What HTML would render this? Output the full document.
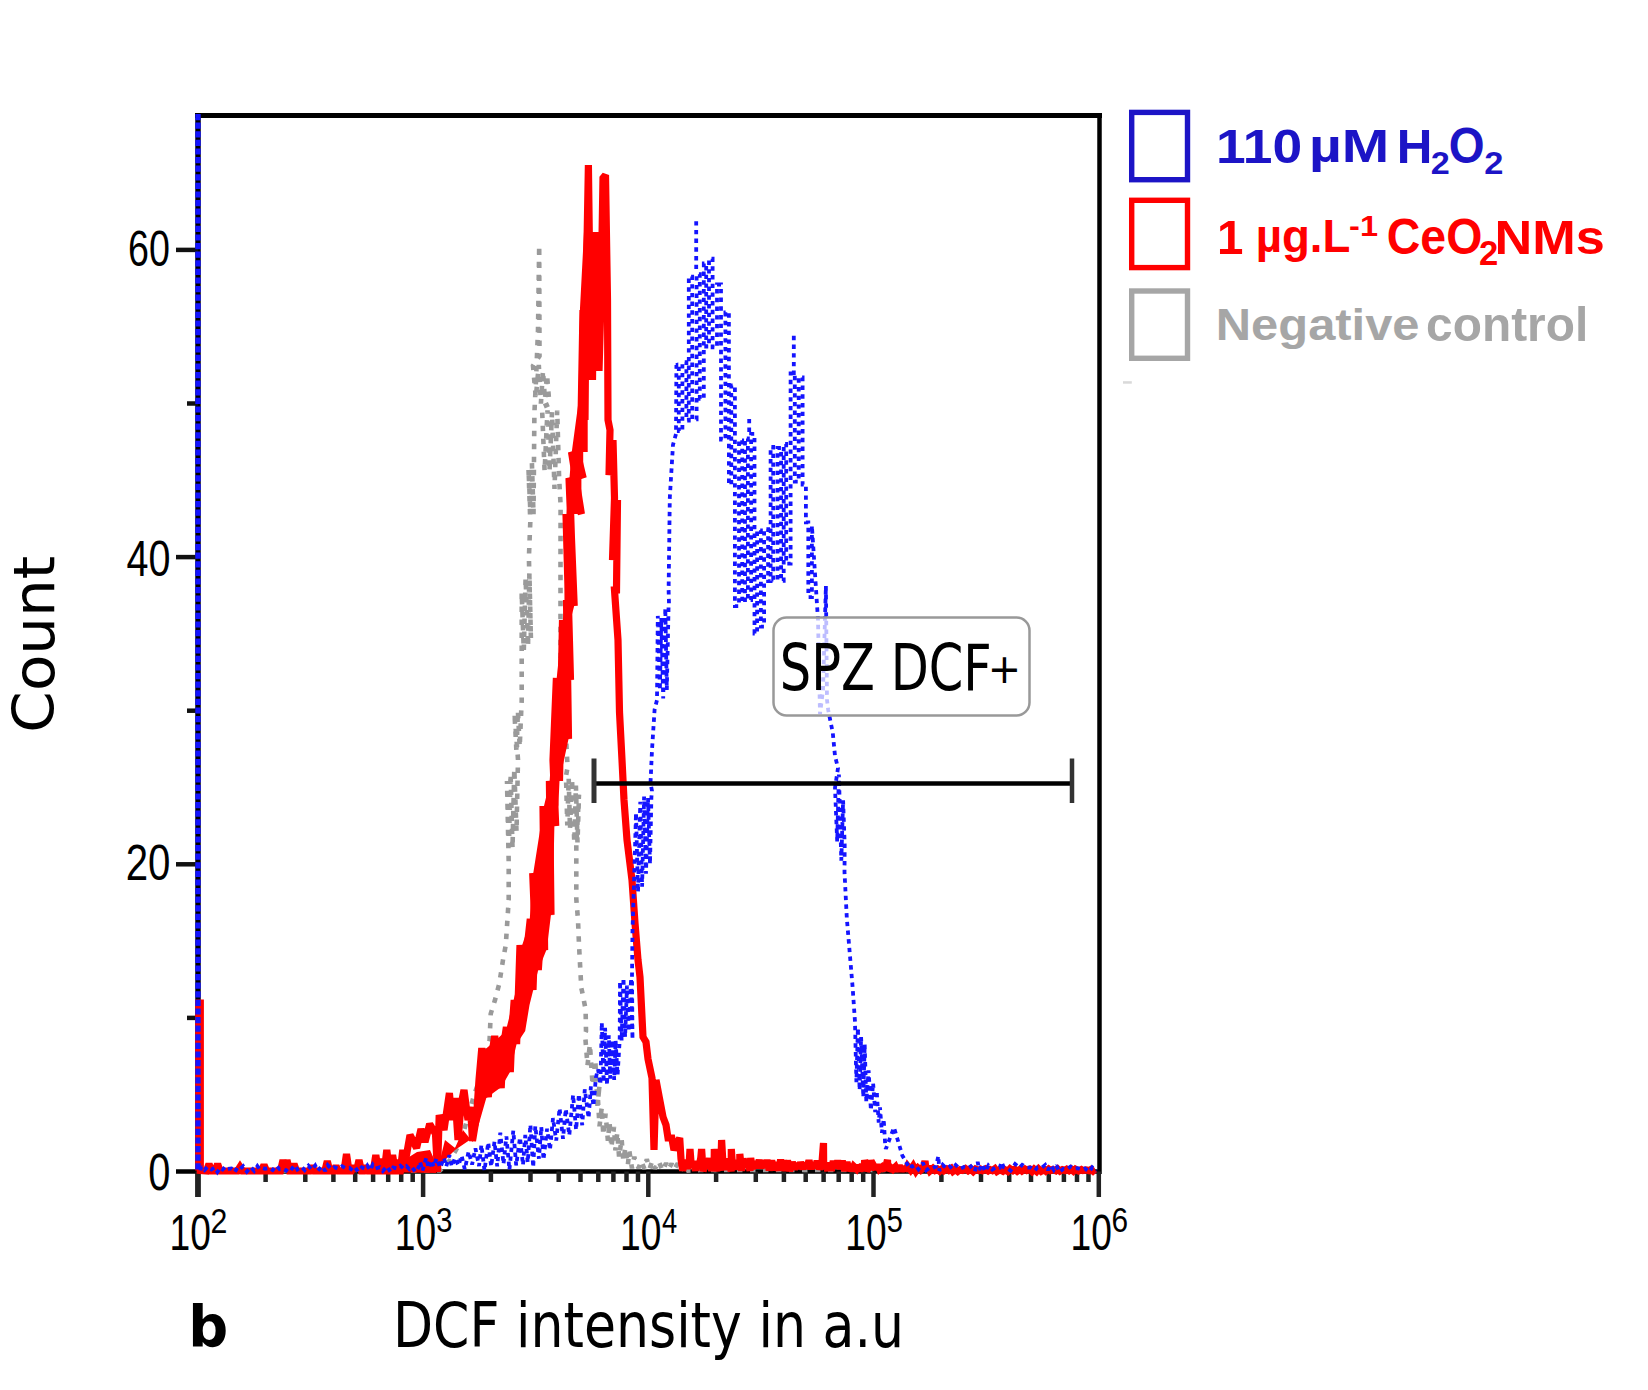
<!DOCTYPE html>
<html><head><meta charset="utf-8"><title>DCF histogram</title>
<style>html,body{margin:0;padding:0;background:#fff;}svg{display:block;}</style>
</head><body>
<svg width="1648" height="1390" viewBox="0 0 1648 1390">
<rect width="1648" height="1390" fill="#fff"/>
<line x1="195" y1="115.5" x2="1102" y2="115.5" stroke="#000" stroke-width="5"/><line x1="1099.5" y1="113" x2="1099.5" y2="1174" stroke="#000" stroke-width="4.5"/><line x1="198" y1="113" x2="198" y2="1197" stroke="#000" stroke-width="5.5"/><line x1="176" y1="1171.5" x2="1101" y2="1171.5" stroke="#000" stroke-width="4.5"/><line x1="176" y1="864.3" x2="198" y2="864.3" stroke="#111" stroke-width="4.5"/><line x1="176" y1="557.1" x2="198" y2="557.1" stroke="#111" stroke-width="4.5"/><line x1="176" y1="249.9" x2="198" y2="249.9" stroke="#111" stroke-width="4.5"/><line x1="187" y1="1017.9" x2="198" y2="1017.9" stroke="#111" stroke-width="4.5"/><line x1="187" y1="710.7" x2="198" y2="710.7" stroke="#111" stroke-width="4.5"/><line x1="187" y1="403.5" x2="198" y2="403.5" stroke="#111" stroke-width="4.5"/><line x1="197.8" y1="1171.5" x2="197.8" y2="1197" stroke="#222" stroke-width="4.5"/><line x1="265.6" y1="1171.5" x2="265.6" y2="1182" stroke="#222" stroke-width="4.5"/><line x1="305.3" y1="1171.5" x2="305.3" y2="1182" stroke="#222" stroke-width="4.5"/><line x1="333.4" y1="1171.5" x2="333.4" y2="1182" stroke="#222" stroke-width="4.5"/><line x1="355.2" y1="1171.5" x2="355.2" y2="1182" stroke="#222" stroke-width="4.5"/><line x1="373.1" y1="1171.5" x2="373.1" y2="1182" stroke="#222" stroke-width="4.5"/><line x1="388.2" y1="1171.5" x2="388.2" y2="1182" stroke="#222" stroke-width="4.5"/><line x1="401.2" y1="1171.5" x2="401.2" y2="1182" stroke="#222" stroke-width="4.5"/><line x1="412.7" y1="1171.5" x2="412.7" y2="1182" stroke="#222" stroke-width="4.5"/><line x1="423.1" y1="1171.5" x2="423.1" y2="1197" stroke="#222" stroke-width="4.5"/><line x1="490.9" y1="1171.5" x2="490.9" y2="1182" stroke="#222" stroke-width="4.5"/><line x1="530.5" y1="1171.5" x2="530.5" y2="1182" stroke="#222" stroke-width="4.5"/><line x1="558.7" y1="1171.5" x2="558.7" y2="1182" stroke="#222" stroke-width="4.5"/><line x1="580.5" y1="1171.5" x2="580.5" y2="1182" stroke="#222" stroke-width="4.5"/><line x1="598.3" y1="1171.5" x2="598.3" y2="1182" stroke="#222" stroke-width="4.5"/><line x1="613.4" y1="1171.5" x2="613.4" y2="1182" stroke="#222" stroke-width="4.5"/><line x1="626.5" y1="1171.5" x2="626.5" y2="1182" stroke="#222" stroke-width="4.5"/><line x1="638.0" y1="1171.5" x2="638.0" y2="1182" stroke="#222" stroke-width="4.5"/><line x1="648.3" y1="1171.5" x2="648.3" y2="1197" stroke="#222" stroke-width="4.5"/><line x1="716.1" y1="1171.5" x2="716.1" y2="1182" stroke="#222" stroke-width="4.5"/><line x1="755.8" y1="1171.5" x2="755.8" y2="1182" stroke="#222" stroke-width="4.5"/><line x1="783.9" y1="1171.5" x2="783.9" y2="1182" stroke="#222" stroke-width="4.5"/><line x1="805.7" y1="1171.5" x2="805.7" y2="1182" stroke="#222" stroke-width="4.5"/><line x1="823.6" y1="1171.5" x2="823.6" y2="1182" stroke="#222" stroke-width="4.5"/><line x1="838.7" y1="1171.5" x2="838.7" y2="1182" stroke="#222" stroke-width="4.5"/><line x1="851.7" y1="1171.5" x2="851.7" y2="1182" stroke="#222" stroke-width="4.5"/><line x1="863.2" y1="1171.5" x2="863.2" y2="1182" stroke="#222" stroke-width="4.5"/><line x1="873.5" y1="1171.5" x2="873.5" y2="1197" stroke="#222" stroke-width="4.5"/><line x1="941.4" y1="1171.5" x2="941.4" y2="1182" stroke="#222" stroke-width="4.5"/><line x1="981.0" y1="1171.5" x2="981.0" y2="1182" stroke="#222" stroke-width="4.5"/><line x1="1009.2" y1="1171.5" x2="1009.2" y2="1182" stroke="#222" stroke-width="4.5"/><line x1="1031.0" y1="1171.5" x2="1031.0" y2="1182" stroke="#222" stroke-width="4.5"/><line x1="1048.8" y1="1171.5" x2="1048.8" y2="1182" stroke="#222" stroke-width="4.5"/><line x1="1063.9" y1="1171.5" x2="1063.9" y2="1182" stroke="#222" stroke-width="4.5"/><line x1="1077.0" y1="1171.5" x2="1077.0" y2="1182" stroke="#222" stroke-width="4.5"/><line x1="1088.5" y1="1171.5" x2="1088.5" y2="1182" stroke="#222" stroke-width="4.5"/><line x1="1098.8" y1="1171.5" x2="1098.8" y2="1197" stroke="#222" stroke-width="4.5"/>
<polyline points="203.0,1170.5 440.0,1170.5 450.0,1160.0 456.0,1150.0 461.0,1140.0 464.7,1128.0 470.0,1110.0 474.0,1095.0 477.7,1085.0 482.0,1068.0 486.3,1052.7 489.6,1040.0 490.7,1013.8 495.0,1000.0 499.3,983.6 503.0,960.0 505.8,944.8 508.7,900.0 508.7,862.0 507.0,780.9 508.9,846.2 510.6,773.8 512.5,848.5 514.3,768.9 516.5,831.7 518.0,759.5 514.5,713.3 516.5,752.7 517.9,710.9 519.7,746.8 521.5,704.7 521.7,701.0 521.7,661.0 521.7,592.4 523.8,650.4 525.6,578.0 528.0,646.4 529.4,573.2 530.9,638.5 528.9,557.5 530.3,522.0 528.5,469.1 530.5,514.4 531.9,462.7 533.5,514.7 534.4,413.0 536.0,380.0 538.0,330.0 539.2,245.4 539.5,356.0 533.0,365.7 535.8,397.8 538.8,365.0 540.9,403.5 543.0,370.7 544.9,399.4 547.0,374.8 549.4,403.9 542.0,407.1 544.6,471.1 547.5,410.4 549.5,471.2 552.0,412.0 554.5,488.9 557.2,410.6 559.1,477.9 560.6,505.0 560.5,560.0 560.5,620.0 560.6,672.0 563.0,690.0 566.0,738.0 567.6,767.0 566.0,776.1 567.3,825.5 568.7,778.2 570.0,829.3 572.0,779.0 574.3,842.4 575.9,785.5 577.5,842.5 579.0,794.6 576.3,845.0 576.3,899.0 578.0,920.0 579.0,944.8 581.3,988.0 582.0,991.0 585.6,1009.5 586.0,1031.0 585.0,1033.6 587.5,1065.4 589.9,1044.5 592.6,1085.2 595.3,1059.7 597.5,1105.9 599.5,1085.2 598.0,1100.1 599.5,1126.3 601.8,1107.2 603.3,1135.1 605.6,1113.8 607.9,1140.7 609.5,1122.1 611.4,1147.3 614.0,1126.9 615.4,1150.4 617.3,1132.5 619.1,1157.3 621.6,1138.9 623.3,1160.6 625.4,1147.6 627.8,1165.0 629.4,1151.4 632.0,1168.4 634.3,1156.8 635.0,1159.7 638.6,1168.0 641.2,1160.9 644.5,1169.0 646.8,1159.2 649.6,1168.8 652.2,1161.0 654.9,1168.6 658.7,1161.2 662.6,1170.8 666.1,1163.1 668.5,1169.2 671.6,1163.6 674.1,1169.7 677.8,1163.3 680.4,1170.8 684.2,1163.5 688.1,1170.7 700.0,1170.0 1097.0,1170.0" fill="none" stroke="#9a9a9a" stroke-width="4.6" stroke-dasharray="5.5 7.5" stroke-linejoin="miter" stroke-miterlimit="2"/>
<polygon points="372.0,1168.0 381.0,1163.0 398.0,1164.0 417.0,1152.0 430.0,1150.0 438.0,1168.0 445.0,1140.0 455.0,1148.0 463.0,1130.0 472.7,1142.0 477.0,1118.0 482.0,1052.0 495.0,1041.0 505.8,1031.0 516.6,988.0 520.9,949.0 529.5,923.0 532.5,878.0 543.5,808.0 549.5,783.0 556.5,680.0 562.5,622.0 564.5,606.0 566.5,514.0 571.5,454.0 578.5,402.0 580.0,308.0 584.0,232.0 609.0,232.0 609.0,292.0 588.0,292.0 587.7,390.0 587.7,452.0 583.2,452.0 583.2,478.0 581.4,478.0 581.4,514.0 574.2,514.0 574.2,606.0 570.5,620.0 570.5,680.0 568.5,739.0 559.5,781.0 558.4,805.0 554.4,825.0 553.4,872.0 553.2,880.0 551.0,914.5 546.8,949.0 538.0,970.7 529.5,1005.0 525.2,1031.0 516.6,1044.0 510.0,1072.0 501.4,1087.0 486.3,1098.0 477.7,1128.0 471.2,1139.0 455.0,1150.0 445.0,1160.0 436.0,1173.0 372.0,1172.0" fill="#ff0000"/>
<polyline points="198.8,1170.5 198.8,1003.0 200.3,1003.0 200.3,1170.5 206.5,1171.0 209.0,1164.0 211.5,1171.0 215.1,1171.0 217.6,1164.0 220.1,1171.0 237.5,1171.0 240.0,1167.0 242.5,1171.0 261.5,1171.0 264.0,1165.0 266.5,1171.0 280.5,1171.0 283.0,1160.0 285.5,1171.0 287.0,1160.0 289.5,1171.0 291.5,1171.0 294.0,1164.0 296.5,1171.0 309.5,1171.0 312.0,1166.0 314.5,1171.0 324.8,1171.0 327.3,1161.0 329.8,1171.0 333.5,1171.0 336.0,1166.0 338.5,1171.0 344.0,1171.0 346.5,1154.0 349.0,1171.0 351.5,1171.0 354.0,1166.0 356.5,1171.0 359.0,1160.0 361.5,1171.0 363.5,1171.0 366.0,1166.0 368.5,1171.0 373.3,1171.0 375.8,1155.0 378.3,1171.0 378.5,1171.0 381.0,1159.0 383.5,1171.0 384.3,1171.0 386.8,1150.0 389.3,1171.0 390.1,1171.0 392.6,1155.0 395.1,1171.0 395.2,1171.0 397.7,1160.0 400.2,1171.0 400.3,1171.0 402.8,1150.0 405.3,1171.0 406.0,1158.0 410.0,1135.0 416.6,1148.0 421.0,1129.0 425.0,1142.0 429.7,1124.0 435.5,1134.0 437.5,1172.0 439.2,1115.0 444.0,1130.0 449.4,1093.0 452.0,1120.0 455.2,1098.0 458.0,1140.0 461.0,1105.0 464.0,1090.0 468.0,1120.0 470.5,1107.0 472.5,1141.0 476.6,1116.0 479.0,1080.0 481.8,1048.0 485.0,1080.0 488.3,1097.0 491.0,1060.0 494.7,1036.0 498.0,1062.0 501.2,1088.0 503.0,1050.0 506.4,1027.0 508.0,1052.0 510.3,1072.0 512.0,1030.0 514.2,1000.0 516.6,1044.0 518.5,990.0 520.0,945.0 523.0,985.0 525.6,962.0 528.0,940.0 530.3,919.0 533.0,990.0 535.0,930.0 532.7,873.0 538.3,970.0 541.0,930.0 544.6,950.0 543.0,806.0 548.0,880.0 551.0,915.0 549.4,781.0 555.7,826.0 553.0,760.0 556.4,678.0 559.5,781.0 561.0,700.0 562.5,620.0 568.5,739.0 566.5,600.0 570.5,680.0 566.0,514.0 574.2,606.0 569.0,478.0 581.4,514.0 571.5,452.0 583.2,478.0 577.0,452.0 581.0,420.0 583.0,310.0 585.0,420.0 586.0,300.0 588.4,165.0 590.0,290.0 592.5,380.0 594.0,240.0 595.5,371.0 597.5,233.0 599.0,371.0 601.0,300.0 603.0,178.0 605.5,175.0 607.5,300.0 608.0,420.0 610.0,430.0 609.0,475.0 613.0,440.0 614.5,498.0 612.5,560.0 617.5,500.0 616.5,590.0 614.5,590.0 618.0,640.0 619.5,712.0 622.0,760.0 624.0,800.0 627.0,840.0 632.0,880.0 635.0,923.0 638.0,960.0 640.0,977.0 643.0,1037.0 646.0,1042.0 648.0,1059.0 652.0,1078.0 654.0,1150.0 656.0,1080.0 659.0,1096.0 663.0,1117.0 666.0,1125.0 668.0,1138.0 671.8,1138.0 674.0,1150.0 679.7,1138.0 681.0,1158.9 682.7,1170.7 685.2,1160.0 687.4,1168.7 689.3,1160.9 690.0,1149.0 691.4,1167.6 693.5,1161.5 695.5,1170.7 697.1,1161.0 698.7,1168.3 700.8,1157.8 701.6,1149.0 703.1,1171.3 705.6,1161.7 707.2,1168.0 709.5,1158.3 711.7,1170.9 714.2,1161.1 714.3,1149.0 716.8,1171.2 718.6,1160.9 720.7,1170.6 721.6,1140.0 723.2,1167.5 724.9,1158.8 727.1,1169.6 729.3,1160.5 731.2,1171.4 731.3,1149.0 732.8,1169.4 735.0,1160.3 737.3,1169.0 739.8,1161.5 739.8,1154.0 741.6,1170.9 743.1,1158.8 745.5,1167.6 747.8,1159.2 750.0,1170.9 750.7,1158.0 752.5,1168.6 754.8,1161.6 756.7,1167.8 759.2,1160.0 761.1,1168.3 763.3,1160.9 765.3,1167.3 767.0,1160.1 769.2,1170.3 771.7,1160.7 774.2,1169.9 776.7,1162.6 779.0,1170.6 780.6,1159.6 782.2,1168.7 783.7,1160.5 785.7,1170.9 787.5,1160.6 789.7,1171.0 792.3,1162.2 794.6,1169.2 796.6,1163.8 799.1,1168.2 800.5,1162.3 803.0,1168.9 805.1,1162.6 806.7,1168.6 809.0,1160.4 811.0,1169.1 812.8,1162.9 815.3,1167.9 817.1,1160.9 819.5,1169.1 821.9,1163.8 823.5,1143.0 823.7,1169.2 825.4,1163.5 827.7,1170.6 829.7,1162.8 831.3,1170.8 833.3,1160.9 835.3,1167.9 837.7,1160.9 840.1,1168.8 842.3,1160.9 844.7,1170.8 847.0,1162.1 848.9,1170.9 850.0,1165.9 851.7,1170.7 853.7,1166.3 856.4,1168.9 858.2,1165.4 859.9,1170.9 862.3,1164.4 864.3,1169.6 864.6,1160.0 866.7,1170.9 869.3,1166.8 869.5,1160.0 871.0,1169.3 873.6,1165.5 875.5,1168.9 877.7,1164.9 879.5,1169.2 882.1,1167.0 884.8,1170.1 887.5,1160.0 887.9,1170.5 890.4,1167.2 892.9,1169.3 895.4,1166.9 897.2,1170.9 899.3,1165.4 901.3,1171.2 903.4,1166.9 905.6,1170.6 907.6,1166.1 910.6,1169.9 913.2,1166.0 915.9,1171.1 918.1,1168.0 920.7,1170.2 923.4,1167.7 925.0,1161.0 926.2,1171.0 927.9,1166.6 930.0,1171.0 933.0,1168.4 935.1,1170.4 937.4,1169.2 939.7,1171.2 941.8,1169.2 943.8,1170.8 946.8,1169.0 948.8,1170.3 951.2,1168.6 953.0,1171.4 955.5,1169.5 957.8,1171.4 960.1,1169.7 962.5,1170.4 965.4,1168.6 968.1,1170.7 970.6,1168.9 973.2,1171.4 975.5,1169.1 978.6,1170.5 980.6,1169.2 982.6,1170.5 985.5,1169.0 988.1,1170.8 990.0,1169.5 992.4,1170.6 994.9,1168.7 997.0,1171.5 1000.0,1169.7 1002.9,1171.2 1004.7,1169.7 1007.7,1171.4 1010.1,1168.8 1012.9,1170.7 1014.8,1169.3 1017.2,1171.2 1020.2,1169.2 1022.1,1170.9 1024.9,1169.0 1027.0,1170.4 1029.6,1169.3 1032.0,1171.4 1034.1,1169.2 1036.6,1171.3 1038.6,1168.9 1041.2,1171.3 1044.1,1169.7 1045.9,1171.2 1048.6,1169.1 1050.4,1170.5 1052.9,1169.4 1055.8,1170.7 1057.7,1169.0 1060.0,1171.1 1062.4,1169.7 1065.0,1170.5 1066.8,1169.3 1069.0,1170.6 1071.0,1169.1 1073.4,1171.1 1075.4,1169.2 1078.5,1171.0 1081.4,1169.5 1083.1,1170.5 1086.0,1169.9 1089.0,1170.6 1090.9,1169.5 1092.9,1171.1 1094.7,1169.4" fill="none" stroke="#ff0000" stroke-width="7.2" stroke-linejoin="miter" stroke-miterlimit="2"/>
<polyline points="200.5,1170.5 201.0,1166.5 204.6,1170.1 207.7,1166.6 211.5,1169.5 214.7,1167.4 217.4,1172.0 220.4,1167.6 222.7,1169.5 225.4,1166.5 227.7,1168.9 231.4,1168.5 234.8,1171.9 237.7,1167.2 240.2,1169.0 243.1,1166.1 246.9,1171.6 250.9,1167.0 254.2,1170.9 257.4,1166.1 259.7,1169.2 262.4,1168.0 265.0,1168.8 269.0,1167.9 272.7,1170.1 276.3,1165.7 279.5,1169.2 282.1,1168.4 286.1,1170.6 289.0,1166.7 292.0,1168.6 295.0,1165.2 297.4,1169.5 301.5,1166.8 304.7,1170.1 308.4,1165.8 311.8,1170.0 315.2,1165.6 317.8,1170.8 321.8,1166.1 325.2,1170.9 327.7,1165.1 331.5,1169.2 334.4,1167.2 338.0,1168.7 342.0,1166.2 346.2,1168.5 349.5,1167.9 352.7,1170.6 355.4,1167.8 358.0,1171.7 361.8,1167.4 365.0,1168.9 367.3,1165.5 370.1,1170.4 372.7,1164.7 375.5,1168.6 379.7,1167.2 382.8,1171.0 386.9,1166.3 390.6,1171.9 393.2,1167.5 397.0,1168.6 400.4,1165.8 403.7,1168.7 406.5,1166.2 409.3,1169.0 411.6,1166.8 415.6,1171.9 419.0,1166.6 420.0,1161.7 422.4,1170.9 426.3,1157.8 428.6,1168.2 431.3,1160.2 433.8,1166.7 436.5,1158.3 440.3,1167.7 444.0,1157.9 446.2,1166.5 449.4,1155.2 451.8,1166.5 455.0,1157.9 458.5,1165.6 461.6,1155.6 464.8,1169.4 468.6,1151.4 472.1,1164.5 475.4,1148.4 479.0,1166.1 481.4,1144.9 484.5,1170.7 488.2,1142.4 491.2,1166.5 494.5,1141.6 497.2,1166.4 500.3,1132.7 503.5,1164.0 506.4,1136.4 509.4,1169.8 513.3,1130.6 516.2,1165.4 520.0,1137.4 523.0,1165.0 525.3,1135.0 527.7,1162.4 530.4,1124.7 533.2,1167.3 535.3,1126.1 538.9,1158.7 541.3,1126.9 543.5,1159.8 547.1,1128.8 550.0,1150.0 553.0,1118.1 556.2,1140.6 559.6,1108.2 563.0,1138.8 565.8,1108.9 569.3,1135.3 573.1,1094.9 576.1,1129.9 578.9,1094.1 582.2,1125.2 584.8,1089.3 588.6,1118.1 590.9,1086.4 593.5,1106.1 595.9,1077.3 598.0,1069.2 600.4,1084.4 601.8,1022.5 603.6,1082.4 605.1,1027.8 607.0,1085.2 608.8,1035.3 610.2,1078.7 612.1,1040.1 614.2,1080.0 615.6,1040.6 617.6,1074.9 619.7,1039.9 620.0,981.3 621.6,1040.7 623.5,978.0 625.1,1037.1 627.0,985.6 628.8,1031.3 631.1,978.4 632.5,1039.4 632.0,976.0 632.5,930.0 634.0,884.0 636.0,812.9 638.0,891.9 640.3,801.8 642.1,886.8 644.1,796.6 646.0,873.7 648.0,798.0 650.0,864.1 651.4,797.1 652.0,791.0 650.5,783.0 652.0,750.0 654.6,709.6 657.0,700.0 657.8,615.9 659.9,690.0 661.3,618.0 663.2,698.5 665.3,608.3 666.8,690.0 668.6,605.7 669.0,604.0 668.6,590.0 669.0,560.0 669.8,497.7 673.0,444.8 676.0,434.0 676.4,365.0 676.0,365.1 678.8,365.1 678.8,431.1 682.4,431.1 682.4,362.2 686.4,362.2 686.4,420.6 688.8,420.6 688.8,276.6 692.2,276.6 692.2,419.4 696.6,419.4 696.6,274.2 699.8,274.2 699.8,398.8 703.8,398.8 703.8,263.5 706.2,263.5 706.2,346.7 709.0,346.7 709.0,258.7 712.6,258.7 712.6,347.3 717.0,347.3 717.0,284.5 721.0,284.5 721.0,439.7 725.4,439.7 725.4,312.3 728.9,312.3 728.9,484.6 731.3,484.6 731.3,385.5 734.9,385.5 734.9,606.1 739.0,606.1 739.0,440.3 742.2,440.3 742.2,602.3 745.0,602.3 745.0,438.5 747.9,438.5 747.9,600.0 751.1,600.0 751.1,433.9 754.5,433.9 754.5,633.5 757.1,633.5 757.1,530.3 760.9,530.3 760.9,626.7 764.1,626.7 764.1,529.2 768.1,529.2 768.1,581.2 770.6,581.2 770.6,446.8 773.2,446.8 773.2,579.7 777.5,579.7 777.5,448.0 781.1,448.0 781.1,580.9 783.7,580.9 783.7,444.0 786.2,444.0 786.2,563.6 790.6,563.6 790.6,373.4 794.8,373.4 794.8,481.7 798.7,481.7 798.7,377.4 802.6,377.4 802.6,484.6 805.9,484.6 805.9,522.3 808.3,522.3 808.3,597.1 811.9,597.1 811.9,525.7 818.0,620.0 820.0,714.0 823.0,690.0 825.9,586.0 827.0,700.0 828.2,710.0 832.8,733.0 835.0,756.0 838.0,768.0 835.0,787.8 837.2,841.5 838.9,774.6 841.3,860.6 843.1,800.3 844.7,845.4 844.5,872.0 846.8,918.0 852.6,987.0 855.0,1021.8 855.0,1023.1 856.4,1082.1 857.9,1027.8 859.6,1090.2 861.1,1037.0 863.3,1097.1 864.7,1044.4 866.3,1101.8 868.6,1070.4 870.9,1110.3 873.1,1083.0 875.2,1112.1 876.7,1090.8 878.7,1122.7 880.0,1107.3 881.9,1132.8 883.7,1119.0 885.3,1146.7 885.9,1148.8 894.0,1127.5 902.3,1155.4 908.8,1166.9 909.0,1165.1 912.2,1166.7 915.2,1165.0 918.4,1169.2 922.9,1162.8 926.3,1170.3 929.5,1167.9 932.6,1168.3 935.9,1166.5 938.4,1156.0 939.3,1170.7 942.7,1164.8 946.8,1168.6 949.7,1166.4 952.7,1169.0 955.7,1165.0 959.8,1169.0 963.8,1167.0 967.5,1168.4 970.8,1166.3 974.8,1171.3 977.7,1162.0 979.3,1169.9 982.0,1164.1 985.2,1171.5 988.4,1165.5 992.3,1169.5 996.7,1166.9 999.8,1167.6 1001.5,1162.0 1003.7,1167.2 1007.7,1168.5 1010.6,1170.6 1015.1,1164.0 1019.5,1167.6 1022.2,1164.8 1026.6,1167.5 1030.9,1167.7 1034.9,1170.6 1037.4,1167.4 1041.7,1167.8 1045.2,1164.9 1048.0,1170.1 1051.0,1165.1 1053.8,1169.9 1056.5,1165.6 1059.3,1171.9 1063.4,1168.8 1066.3,1169.5 1070.6,1166.6 1073.7,1168.7 1077.8,1168.2 1081.9,1169.9 1085.0,1168.5 1089.1,1171.8 1092.2,1167.3 1096.6,1171.0" fill="none" stroke="#1414ff" stroke-width="3.8" stroke-dasharray="4.4 4.3" stroke-linejoin="miter" stroke-miterlimit="2"/>
<line x1="198" y1="114" x2="198" y2="1171" stroke="#1414ff" stroke-width="5.4" stroke-dasharray="6.2 2.4"/>
<polyline points="696.2,269.1 696.2,218.0" fill="none" stroke="#1414ff" stroke-width="3.8" stroke-dasharray="4.4 4.3"/>
<polyline points="749.2,432.0 749.2,418.0" fill="none" stroke="#1414ff" stroke-width="3.8" stroke-dasharray="4.4 4.3"/>
<polyline points="793.8,375.0 793.8,334.0" fill="none" stroke="#1414ff" stroke-width="3.8" stroke-dasharray="4.4 4.3"/>
<line x1="594" y1="783.5" x2="1072" y2="783.5" stroke="#000" stroke-width="4.5"/><line x1="594" y1="758.5" x2="594" y2="803" stroke="#333" stroke-width="5"/><line x1="1072" y1="758.5" x2="1072" y2="803" stroke="#333" stroke-width="4.5"/><rect x="773.5" y="617.5" width="256" height="98" rx="13" ry="13" fill="#fff" fill-opacity="0.72" stroke="#999" stroke-width="2.5"/>
<text x="128.12" y="266.10" font-family="&quot;Liberation Sans&quot;, &quot;DejaVu Sans&quot;, sans-serif" font-weight="normal" font-size="50.32" textLength="41.88" lengthAdjust="spacingAndGlyphs" fill="#000">60</text><text x="126.41" y="575.60" font-family="&quot;Liberation Sans&quot;, &quot;DejaVu Sans&quot;, sans-serif" font-weight="normal" font-size="50.46" textLength="43.96" lengthAdjust="spacingAndGlyphs" fill="#000">40</text><text x="125.69" y="879.80" font-family="&quot;Liberation Sans&quot;, &quot;DejaVu Sans&quot;, sans-serif" font-weight="normal" font-size="50.04" textLength="44.71" lengthAdjust="spacingAndGlyphs" fill="#000">20</text><text x="148.31" y="1189.99" font-family="&quot;Liberation Sans&quot;, &quot;DejaVu Sans&quot;, sans-serif" font-weight="normal" font-size="51.31" textLength="22.13" lengthAdjust="spacingAndGlyphs" fill="#000">0</text><text x="169.61" y="1249.59" font-family="&quot;Liberation Sans&quot;, &quot;DejaVu Sans&quot;, sans-serif" font-weight="normal" font-size="50.60" textLength="41.37" lengthAdjust="spacingAndGlyphs" fill="#000">10</text><text x="210.58" y="1232.80" font-family="&quot;Liberation Sans&quot;, &quot;DejaVu Sans&quot;, sans-serif" font-weight="normal" font-size="35.27" textLength="16.87" lengthAdjust="spacingAndGlyphs" fill="#000">2</text><text x="394.86" y="1249.59" font-family="&quot;Liberation Sans&quot;, &quot;DejaVu Sans&quot;, sans-serif" font-weight="normal" font-size="50.60" textLength="41.37" lengthAdjust="spacingAndGlyphs" fill="#000">10</text><text x="436.26" y="1232.45" font-family="&quot;Liberation Sans&quot;, &quot;DejaVu Sans&quot;, sans-serif" font-weight="normal" font-size="34.77" textLength="16.16" lengthAdjust="spacingAndGlyphs" fill="#000">3</text><text x="620.11" y="1249.59" font-family="&quot;Liberation Sans&quot;, &quot;DejaVu Sans&quot;, sans-serif" font-weight="normal" font-size="50.60" textLength="41.37" lengthAdjust="spacingAndGlyphs" fill="#000">10</text><text x="661.99" y="1232.80" font-family="&quot;Liberation Sans&quot;, &quot;DejaVu Sans&quot;, sans-serif" font-weight="normal" font-size="35.78" textLength="15.20" lengthAdjust="spacingAndGlyphs" fill="#000">4</text><text x="845.36" y="1249.59" font-family="&quot;Liberation Sans&quot;, &quot;DejaVu Sans&quot;, sans-serif" font-weight="normal" font-size="50.60" textLength="41.37" lengthAdjust="spacingAndGlyphs" fill="#000">10</text><text x="886.69" y="1232.45" font-family="&quot;Liberation Sans&quot;, &quot;DejaVu Sans&quot;, sans-serif" font-weight="normal" font-size="35.27" textLength="16.16" lengthAdjust="spacingAndGlyphs" fill="#000">5</text><text x="1070.61" y="1249.59" font-family="&quot;Liberation Sans&quot;, &quot;DejaVu Sans&quot;, sans-serif" font-weight="normal" font-size="50.60" textLength="41.37" lengthAdjust="spacingAndGlyphs" fill="#000">10</text><text x="1111.61" y="1232.45" font-family="&quot;Liberation Sans&quot;, &quot;DejaVu Sans&quot;, sans-serif" font-weight="normal" font-size="34.77" textLength="16.59" lengthAdjust="spacingAndGlyphs" fill="#000">6</text><text x="392.92" y="1347.13" font-family="&quot;DejaVu Sans&quot;, &quot;Liberation Sans&quot;, sans-serif" font-weight="normal" font-size="62.02" textLength="511.14" lengthAdjust="spacingAndGlyphs" fill="#000">DCF intensity in a.u</text><text transform="translate(0,729.4) rotate(-90)" x="-3.28" y="53.65" font-family="&quot;DejaVu Sans&quot;, &quot;Liberation Sans&quot;, sans-serif" font-weight="normal" font-size="56.63" textLength="176.85" lengthAdjust="spacingAndGlyphs" fill="#000">Count</text><text x="188.19" y="1345.54" font-family="&quot;DejaVu Sans&quot;, &quot;Liberation Sans&quot;, sans-serif" font-weight="bold" font-size="57.29" textLength="39.96" lengthAdjust="spacingAndGlyphs" fill="#000">b</text><text x="779.78" y="689.53" font-family="&quot;DejaVu Sans&quot;, &quot;Liberation Sans&quot;, sans-serif" font-weight="normal" font-size="64.69" textLength="212.03" lengthAdjust="spacingAndGlyphs" fill="#000">SPZ DCF</text><text x="987.82" y="683.00" font-family="&quot;DejaVu Sans&quot;, &quot;Liberation Sans&quot;, sans-serif" font-weight="normal" font-size="41.43" textLength="33.38" lengthAdjust="spacingAndGlyphs" fill="#000">+</text>
<rect x="1131.7" y="112.4" width="55.8" height="67.3" fill="none" stroke="#1c14c6" stroke-width="5.4"/><rect x="1131.7" y="200.3" width="55.8" height="67.3" fill="none" stroke="#ff0000" stroke-width="5.4"/><rect x="1131.7" y="291" width="55.8" height="67.3" fill="none" stroke="#a6a6a6" stroke-width="5.4"/><text x="1216.06" y="162.72" font-family="&quot;Liberation Sans&quot;, &quot;DejaVu Sans&quot;, sans-serif" font-weight="bold" font-size="47.77" textLength="86.12" lengthAdjust="spacingAndGlyphs" fill="#1c14c6">110</text><text x="1308.90" y="161.51" font-family="&quot;Liberation Sans&quot;, &quot;DejaVu Sans&quot;, sans-serif" font-weight="bold" font-size="46.70" textLength="80.30" lengthAdjust="spacingAndGlyphs" fill="#1c14c6">µM</text><text x="1396.67" y="162.80" font-family="&quot;Liberation Sans&quot;, &quot;DejaVu Sans&quot;, sans-serif" font-weight="bold" font-size="48.58" textLength="35.65" lengthAdjust="spacingAndGlyphs" fill="#1c14c6">H</text><text x="1430.80" y="174.00" font-family="&quot;Liberation Sans&quot;, &quot;DejaVu Sans&quot;, sans-serif" font-weight="bold" font-size="31.97" textLength="19.02" lengthAdjust="spacingAndGlyphs" fill="#1c14c6">2</text><text x="1448.66" y="162.91" font-family="&quot;Liberation Sans&quot;, &quot;DejaVu Sans&quot;, sans-serif" font-weight="bold" font-size="49.47" textLength="35.81" lengthAdjust="spacingAndGlyphs" fill="#1c14c6">O</text><text x="1484.20" y="174.00" font-family="&quot;Liberation Sans&quot;, &quot;DejaVu Sans&quot;, sans-serif" font-weight="bold" font-size="31.97" textLength="19.13" lengthAdjust="spacingAndGlyphs" fill="#1c14c6">2</text><text x="1216.93" y="254.00" font-family="&quot;Liberation Sans&quot;, &quot;DejaVu Sans&quot;, sans-serif" font-weight="bold" font-size="48.87" textLength="26.43" lengthAdjust="spacingAndGlyphs" fill="#ff0000">1</text><text x="1255.63" y="251.95" font-family="&quot;Liberation Sans&quot;, &quot;DejaVu Sans&quot;, sans-serif" font-weight="bold" font-size="45.89" textLength="94.77" lengthAdjust="spacingAndGlyphs" fill="#ff0000">µg.L</text><text x="1349.10" y="235.70" font-family="&quot;Liberation Sans&quot;, &quot;DejaVu Sans&quot;, sans-serif" font-weight="bold" font-size="29.67" textLength="28.84" lengthAdjust="spacingAndGlyphs" fill="#ff0000">-1</text><text x="1386.74" y="254.31" font-family="&quot;Liberation Sans&quot;, &quot;DejaVu Sans&quot;, sans-serif" font-weight="bold" font-size="49.33" textLength="95.59" lengthAdjust="spacingAndGlyphs" fill="#ff0000">CeO</text><text x="1479.09" y="265.00" font-family="&quot;Liberation Sans&quot;, &quot;DejaVu Sans&quot;, sans-serif" font-weight="bold" font-size="34.70" textLength="19.25" lengthAdjust="spacingAndGlyphs" fill="#ff0000">2</text><text x="1494.47" y="254.01" font-family="&quot;Liberation Sans&quot;, &quot;DejaVu Sans&quot;, sans-serif" font-weight="bold" font-size="48.89" textLength="110.29" lengthAdjust="spacingAndGlyphs" fill="#ff0000">NMs</text><rect x="1123" y="381.2" width="8.8" height="2.5" fill="#d9d9d9"/><text x="1215.80" y="339.74" font-family="&quot;Liberation Sans&quot;, &quot;DejaVu Sans&quot;, sans-serif" font-weight="bold" font-size="44.05" textLength="203.74" lengthAdjust="spacingAndGlyphs" fill="#a6a6a6">Negative</text><text x="1426.09" y="340.81" font-family="&quot;Liberation Sans&quot;, &quot;DejaVu Sans&quot;, sans-serif" font-weight="bold" font-size="48.98" textLength="162.12" lengthAdjust="spacingAndGlyphs" fill="#a6a6a6">control</text>
</svg>
</body></html>
